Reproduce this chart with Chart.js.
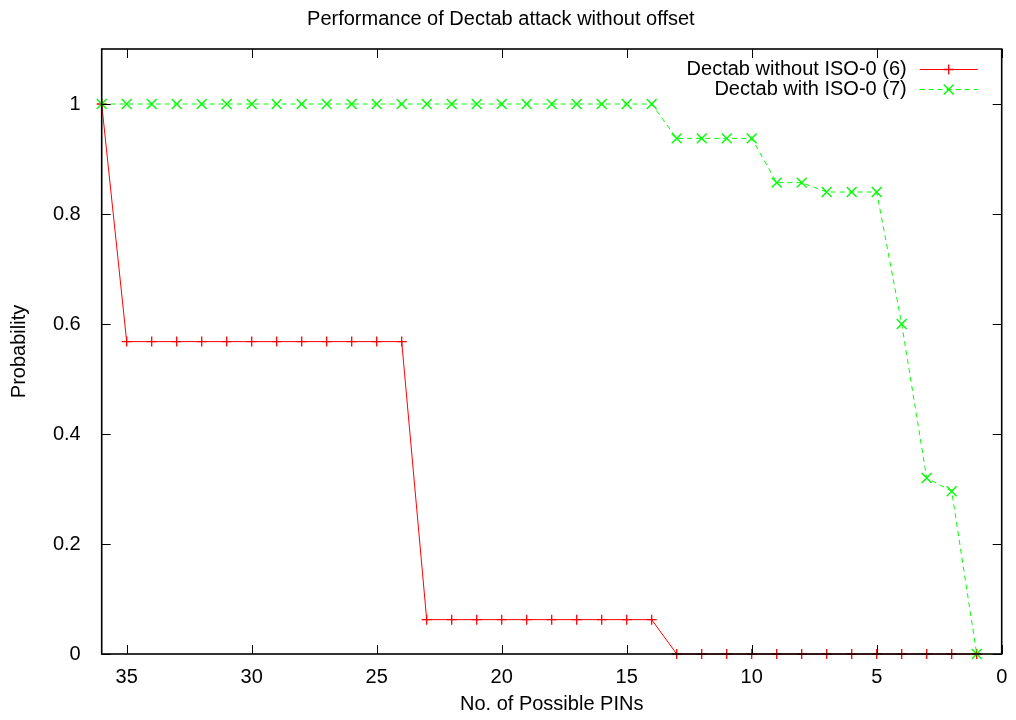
<!DOCTYPE html>
<html>
<head>
<meta charset="utf-8">
<script src="https://cdn.jsdelivr.net/npm/chart.js@4/dist/chart.umd.min.js"></script>
<style>
  html, body { margin: 0; padding: 0; background: #fff; }
  #wrap { width: 1016px; height: 720px; }
</style>
</head>
<body>
<div id="wrap"><canvas id="c" width="1016" height="720"></canvas></div>
<script>
// ---- data ----
const pins = [36, 35, 34, 33, 32, 31, 30, 29, 28, 27, 26, 25, 24, 23, 22, 21, 20, 19, 18, 17, 16, 15, 14, 13, 12, 11, 10, 9, 8, 7, 6, 5, 4, 3, 2, 1];
const withoutISO = [1, 0.568, 0.568, 0.568, 0.568, 0.568, 0.568, 0.568, 0.568, 0.568, 0.568, 0.568, 0.568,
  0.0625, 0.0625, 0.0625, 0.0625, 0.0625, 0.0625, 0.0625, 0.0625, 0.0625, 0.0625,
  0, 0, 0, 0, 0, 0, 0, 0, 0, 0, 0, 0, 0];
const withISO = [1, 1, 1, 1, 1, 1, 1, 1, 1, 1, 1, 1, 1, 1, 1, 1, 1, 1, 1, 1, 1, 1, 1,
  0.9375, 0.9375, 0.9375, 0.9375, 0.857, 0.857, 0.84, 0.84, 0.84, 0.6, 0.32, 0.296, 0];
const xTicks = [35, 30, 25, 20, 15, 10, 5, 0];
const yTicks = [0, 0.2, 0.4, 0.6, 0.8, 1];
const seriesNames = ['Dectab without ISO-0 (6)', 'Dectab with ISO-0 (7)'];
const titleText = 'Performance of Dectab attack without offset';
const xTitle = 'No. of Possible PINs';
const yTitle = 'Probability';

const FONT = '"Liberation Sans", Arial, Helvetica, sans-serif';

const toXY = (xs, ys) => xs.map((x, i) => ({ x: x, y: ys[i] }));

// Inward border ticks on all four sides + top/right border
const borderTicks = {
  id: 'borderTicks',
  afterDraw(chart) {
    const { ctx, chartArea: a, scales } = chart;
    const L = 9;
    ctx.save();
    ctx.strokeStyle = '#000';
    ctx.lineWidth = 1;
    ctx.beginPath();
    xTicks.forEach(v => {
      const px = Math.round(scales.x.getPixelForValue(v)) + 0.5;
      ctx.moveTo(px, a.bottom); ctx.lineTo(px, a.bottom - L);
      ctx.moveTo(px, a.top); ctx.lineTo(px, a.top + L);
    });
    yTicks.forEach(v => {
      const py = Math.round(scales.y.getPixelForValue(v)) + 0.5;
      ctx.moveTo(a.left, py); ctx.lineTo(a.left + L, py);
      ctx.moveTo(a.right, py); ctx.lineTo(a.right - L, py);
    });
    ctx.stroke();
    ctx.lineWidth = 1.6;
    ctx.strokeRect(a.left, a.top, a.right - a.left, a.bottom - a.top);
    ctx.restore();
  }
};

// gnuplot-style key: right-aligned text followed by line sample with marker
const gnuKey = {
  id: 'gnuKey',
  afterDraw(chart) {
    const { ctx, chartArea: a } = chart;
    ctx.save();
    ctx.font = '20px ' + FONT;
    ctx.textAlign = 'right';
    ctx.textBaseline = 'middle';
    const rows = [69, 89];
    chart.data.datasets.forEach((ds, i) => {
      const y = rows[i];
      const textRight = a.right - 95;
      const x0 = a.right - 82, x1 = a.right - 24;
      ctx.fillStyle = '#000';
      ctx.fillText(ds.label, textRight, y);
      ctx.strokeStyle = ds.borderColor;
      ctx.lineWidth = 1;
      ctx.setLineDash(ds.borderDash || []);
      ctx.beginPath();
      ctx.moveTo(x0, y + 0.5); ctx.lineTo(x1, y + 0.5);
      ctx.stroke();
      ctx.setLineDash([]);
      ctx.lineWidth = ds.pointBorderWidth;
      Chart.helpers.drawPoint(ctx, {
        pointStyle: ds.pointStyle, radius: ds.pointRadius, borderWidth: ds.pointBorderWidth, rotation: 0
      }, (x0 + x1) / 2, y + 0.5);
    });
    ctx.restore();
  }
};

const ctx = document.getElementById('c').getContext('2d');
new Chart(ctx, {
  type: 'line',
  data: {
    datasets: [
      {
        label: seriesNames[0],
        data: toXY(pins, withoutISO),
        borderColor: '#ff0000',
        backgroundColor: '#ff0000',
        borderWidth: 1,
        pointStyle: 'cross',
        pointRadius: 5,
        pointBorderWidth: 1.3,
        pointBorderColor: '#ff0000',
        fill: false,
        tension: 0,
        clip: false,
        order: 0
      },
      {
        label: seriesNames[1],
        data: toXY(pins, withISO),
        borderColor: '#00ff00',
        backgroundColor: '#00ff00',
        borderWidth: 1,
        borderDash: [5, 4],
        pointStyle: 'crossRot',
        pointRadius: 7,
        pointBorderWidth: 1.4,
        pointBorderColor: '#00ff00',
        fill: false,
        tension: 0,
        clip: false,
        order: -1
      }
    ]
  },
  options: {
    responsive: false,
    animation: false,
    devicePixelRatio: 1,
    layout: { padding: { left: 0, right: 14.3, top: 0, bottom: 0 } },
    plugins: {
      legend: { display: false },
      tooltip: { enabled: false },
      title: {
        display: true,
        text: titleText,
        color: '#000',
        font: { family: FONT, size: 20, weight: 'normal' },
        padding: { top: 7.5, bottom: 17.5 }
      }
    },
    scales: {
      x: {
        type: 'linear',
        reverse: true,
        min: 0,
        max: 36,
        afterBuildTicks: s => { s.ticks = xTicks.map(v => ({ value: v })); },
        afterFit: s => { s.height = 66; },
        grid: { display: false },
        border: { display: false },
        ticks: {
          color: '#000',
          font: { family: FONT, size: 20 },
          padding: 3,
          maxRotation: 0,
          autoSkip: false
        },
        title: {
          display: true,
          text: xTitle,
          color: '#000',
          font: { family: FONT, size: 20 },
          padding: { top: 0, bottom: 4 }
        }
      },
      y: {
        type: 'linear',
        min: 0,
        max: 1.1,
        afterBuildTicks: s => { s.ticks = yTicks.map(v => ({ value: v })); },
        afterFit: s => { s.width = 101.7; },
        grid: { display: false },
        border: { display: false },
        ticks: {
          color: '#000',
          font: { family: FONT, size: 20 },
          padding: 13,
          callback: v => String(Math.round(v * 10) / 10)
        },
        title: {
          display: true,
          text: yTitle,
          color: '#000',
          font: { family: FONT, size: 20 },
          padding: { top: 7, bottom: 0 }
        }
      }
    }
  },
  plugins: [borderTicks, gnuKey]
});
</script>
</body>
</html>
